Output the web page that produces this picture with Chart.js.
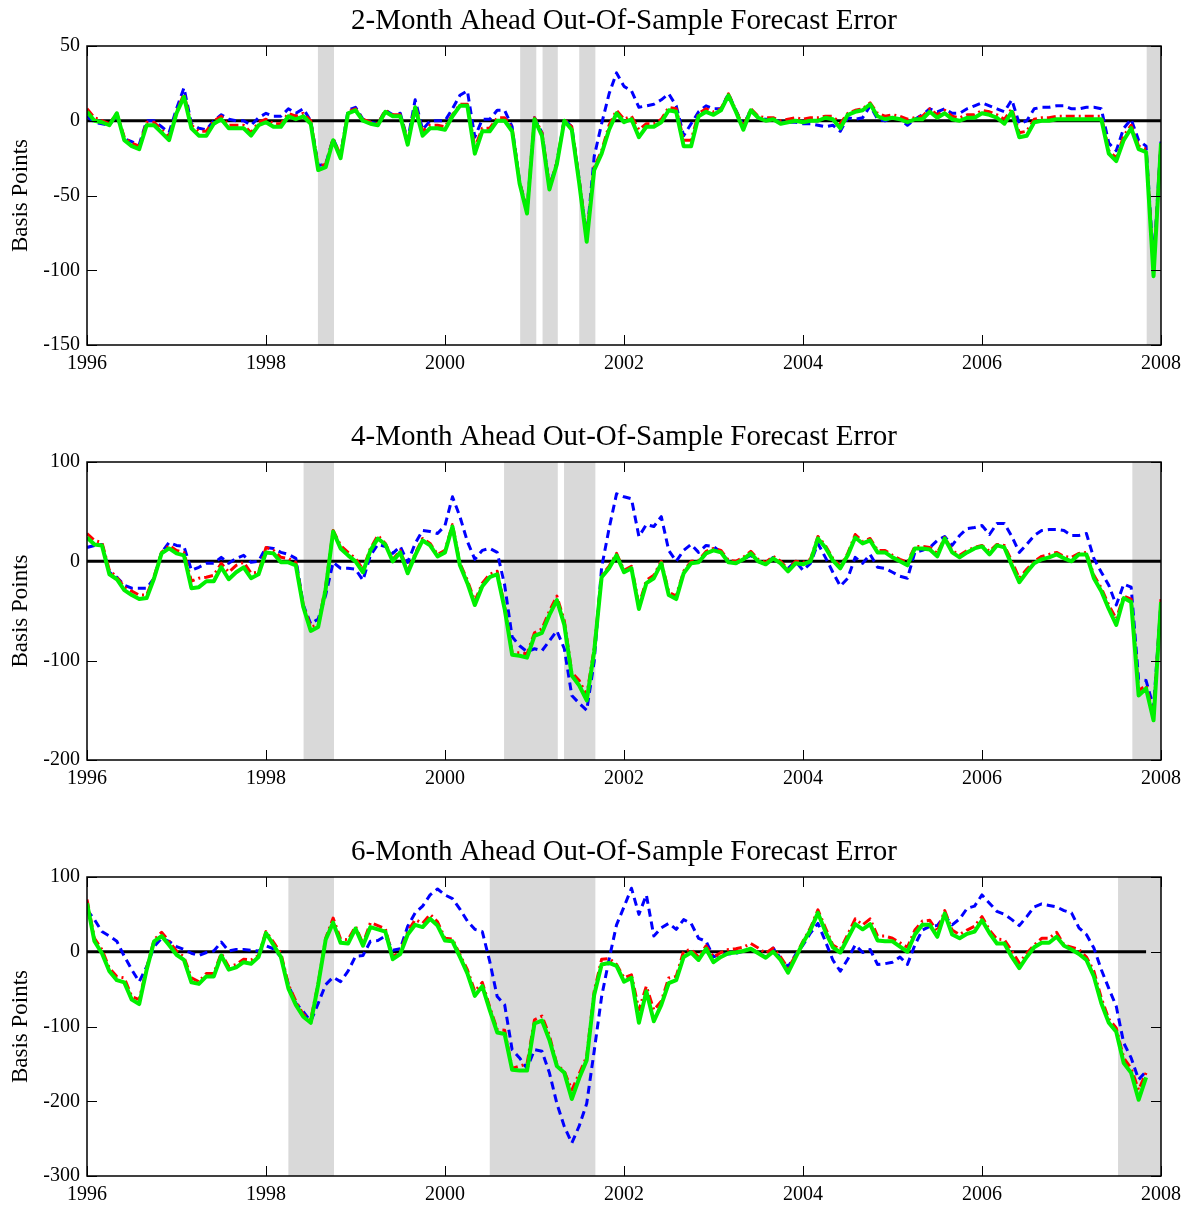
<!DOCTYPE html>
<html>
<head>
<meta charset="utf-8">
<title>Out-Of-Sample Forecast Error</title>
<script src="https://cdn.jsdelivr.net/npm/chart.js@4.4.1/dist/chart.umd.min.js"></script>
<style>
  body { margin: 0; background: #fff; }
  canvas.panel { position: absolute; left: 0; }
</style>
</head>
<body>
<canvas id="chart2m" class="panel" width="1193" height="416" style="top:0px"></canvas>
<canvas id="chart4m" class="panel" width="1193" height="415" style="top:416px"></canvas>
<canvas id="chart6m" class="panel" width="1193" height="376" style="top:831px"></canvas>
<script>
// Monthly forecast errors (basis points), first value = Jan 1996
const startYear = 1996;
const xTickYears = [1996, 1998, 2000, 2002, 2004, 2006, 2008];

// 2-month ahead
const blue2m = [3, -1, -2, -3, 4, -12, -14, -16, 0, 0,
  -4, -8, 8, 22, -2, -5, -6, 0, 4, 1,
  0, 0, -3, 2, 5, 3, 3, 8, 5, 8,
  0, -30, -29, -12, -23, 7, 9, 1, -1, -2,
  7, 4, 5, -13, 14, -6, 0, 0, 0, 8,
  17, 20, -11, 1, 1, 7, 7, -4, -41, -60,
  2, -8, -44, -28, 1, -4, -40, -78, -24, -2,
  18, 32, 23, 20, 9, 10, 11, 14, 18, 10,
  -10, -2, 6, 10, 8, 8, 18, 7, -3, 7,
  2, 1, 1, -1, -1, -1, -2, -2, -3, -4,
  -3, -7, 2, 1, 2, 10, 1, 0, 2, 1,
  -3, 1, 4, 8, 6, 8, 5, 5, 8, 10,
  12, 10, 8, 6, 14, -2, 0, 8, 9, 9,
  10, 10, 8, 8, 9, 9, 8, -15, -20, -5,
  1, -13, -17, -95, -13];
const red2m = [8, 2, 0, -2, 5, -11, -15, -17, -1, -1,
  -6, -11, 6, 18, -3, -7, -7, 0, 3, -3,
  -3, -3, -8, -1, 1, -2, -2, 5, 3, 5,
  0, -31, -29, -12, -23, 6, 8, 1, -1, -2,
  7, 4, 4, -14, 10, -7, -3, -3, -4, 4,
  11, 11, -18, -5, -5, 2, 2, -5, -41, -60,
  2, -8, -44, -28, 1, -4, -40, -78, -31, -20,
  -3, 7, 1, 3, -6, -2, -2, 1, 9, 8,
  -13, -13, 5, 8, 6, 8, 18, 7, -4, 8,
  3, 2, 2, 0, 1, 2, 1, 2, 2, 3,
  3, -2, 5, 7, 8, 12, 5, 3, 4, 3,
  1, 2, 3, 8, 4, 7, 3, 2, 4, 4,
  7, 6, 4, 1, 8, -8, -7, 1, 2, 2,
  3, 3, 3, 3, 3, 3, 3, -20, -25, -10,
  -3, -17, -19, -100, -14];
const green2m = [6, 0, -1, -3, 5, -13, -17, -19, -3, -3,
  -8, -13, 5, 16, -5, -10, -10, -2, 1, -5,
  -5, -5, -10, -3, -1, -4, -4, 3, 1, 3,
  -2, -33, -31, -13, -25, 5, 7, 0, -2, -3,
  6, 3, 3, -16, 9, -10, -5, -5, -6, 3,
  10, 10, -22, -7, -7, 0, 0, -7, -42, -62,
  1, -10, -46, -29, 0, -6, -42, -81, -33, -22,
  -6, 5, -1, 1, -11, -4, -4, -1, 7, 6,
  -17, -17, 3, 6, 4, 7, 17, 6, -6, 7,
  2, 0, 1, -2, -1, 0, -1, 0, 0, 2,
  1, -5, 4, 6, 7, 11, 3, 1, 2, 1,
  -1, 1, 1, 6, 2, 5, 1, 0, 2, 2,
  5, 4, 2, -2, 6, -11, -10, -1, 0, 0,
  1, 1, 1, 1, 1, 1, 1, -22, -27, -13,
  -5, -19, -21, -104, -15];
const yTicks2m = [-150, -100, -50, 0, 50];
const bands2m = [[1998.58, 1998.76], [2000.84, 2001.02], [2001.09, 2001.26], [2001.50, 2001.68], [2007.84, 2008.0]];

// 4-month ahead
const blue4m = [14, 16, 17, -11, -16, -24, -27, -27, -27, -17,
  9, 19, 16, 15, -9, -6, -2, -2, 4, -2,
  3, 6, -1, 0, 14, 13, 9, 7, 3, -44,
  -63, -58, -34, -1, -7, -7, -8, -19, 6, 17,
  15, 8, 15, -1, 18, 31, 30, 28, 36, 65,
  45, 20, 2, 11, 13, 9, -24, -76, -85, -91,
  -88, -90, -80, -70, -88, -135, -143, -150, -101, -6,
  33, 68, 65, 63, 25, 37, 35, 45, 11, 0,
  11, 17, 9, 16, 15, 9, 0, -2, 2, 6,
  0, -3, 4, -2, -7, 0, -9, -2, 18, 4,
  -11, -25, -17, 4, -2, 7, -6, -7, -11, -15,
  -17, 9, 11, 14, 21, 25, 16, 26, 33, 34,
  36, 27, 38, 38, 25, 9, 17, 26, 31, 32,
  32, 31, 26, 26, 28, 3, -11, -24, -44, -23,
  -26, -119, -120, -147, -41];
const red4m = [28, 21, 19, -9, -16, -26, -30, -34, -34, -15,
  9, 16, 11, 9, -20, -17, -16, -14, -2, -11,
  -4, -1, -12, -11, 14, 11, 4, 3, -1, -44,
  -66, -64, -25, 31, 16, 9, 3, -8, 13, 26,
  18, 2, 11, -10, 8, 23, 18, 7, 11, 37,
  -2, -19, -40, -22, -13, -10, -45, -92, -92, -93,
  -72, -68, -50, -35, -60, -112, -120, -135, -88, -14,
  -5, 8, -9, -5, -44, -19, -14, 0, -31, -35,
  -10, 0, 1, 10, 13, 11, 1, 0, 4, 10,
  2, -1, 5, 0, -8, 0, -1, 2, 25, 16,
  3, -5, 8, 27, 20, 23, 11, 11, 6, 2,
  -1, 15, 15, 14, 8, 24, 11, 6, 11, 14,
  16, 10, 17, 16, 0, -17, -8, 0, 5, 7,
  9, 5, 4, 8, 9, -14, -27, -44, -58, -35,
  -38, -130, -125, -155, -38];
const green4m = [24, 17, 16, -13, -18, -29, -34, -38, -37, -17,
  8, 13, 8, 6, -27, -26, -20, -20, -6, -18,
  -11, -6, -17, -13, 9, 8, -1, -1, -4, -46,
  -70, -66, -28, 30, 13, 6, 0, -11, 11, 23,
  17, 0, 9, -12, 6, 21, 16, 5, 9, 35,
  -4, -22, -44, -25, -16, -13, -48, -94, -95, -97,
  -75, -72, -54, -39, -64, -115, -125, -140, -91, -16,
  -7, 6, -11, -7, -48, -22, -17, -2, -34, -38,
  -12, -2, -1, 8, 11, 9, -1, -2, 2, 8,
  0, -3, 3, -2, -10, -2, -3, 0, 23, 14,
  1, -7, 6, 24, 18, 21, 9, 9, 4, 0,
  -4, 13, 13, 12, 5, 23, 9, 4, 9, 13,
  15, 7, 16, 14, -4, -21, -11, -2, 2, 4,
  7, 3, 0, 7, 7, -17, -30, -48, -64, -37,
  -41, -135, -128, -160, -41];
const yTicks4m = [-200, -100, 0, 100];
const bands4m = [[1998.42, 1998.76], [2000.66, 2001.26], [2001.33, 2001.68], [2007.68, 2008.0]];

// 6-month ahead
const blue6m = [56, 43, 27, 21, 14, -6, -24, -40, -20, 7,
  18, 14, 7, 3, -2, -5, -1, 1, 13, 1,
  3, 3, 2, 1, 8, 4, -7, -44, -69, -80,
  -93, -69, -44, -34, -40, -26, -6, -5, 14, 15,
  21, 2, 4, 34, 52, 61, 76, 84, 76, 71,
  57, 41, 30, 27, -13, -60, -71, -131, -142, -156,
  -131, -133, -162, -203, -234, -256, -233, -203, -133, -60,
  -10, 36, 60, 85, 50, 76, 21, 32, 38, 30,
  43, 38, 18, 14, -7, -3, -3, -2, 1, 4,
  -2, -7, 5, -9, -20, -4, 9, 25, 38, 14,
  -11, -26, -10, 9, -1, 3, -17, -16, -14, -7,
  -17, 9, 29, 34, 35, 48, 36, 44, 58, 61,
  76, 65, 54, 50, 43, 35, 47, 60, 64, 62,
  60, 55, 52, 32, 23, 5, -24, -49, -73, -122,
  -142, -171, -160];
const red6m = [70, 18, 3, -22, -33, -35, -60, -64, -22, 16,
  26, 14, 1, -7, -35, -40, -29, -29, -2, -20,
  -17, -10, -11, -5, 27, 13, -2, -44, -66, -84,
  -91, -42, 18, 45, 17, 16, 34, 11, 39, 35,
  31, -7, 0, 27, 43, 38, 50, 40, 18, 17,
  -4, -24, -53, -41, -74, -104, -105, -156, -153, -150,
  -91, -86, -112, -151, -160, -185, -163, -140, -53, -10,
  -9, -17, -35, -31, -78, -46, -78, -66, -35, -33,
  1, 3, -7, 8, -7, -1, 3, 4, 6, 11,
  5, -2, 5, -7, -22, -5, 14, 32, 56, 32,
  9, 3, 23, 44, 36, 44, 21, 21, 18, 12,
  6, 29, 41, 42, 27, 55, 29, 23, 29, 34,
  47, 29, 17, 16, 1, -15, -2, 9, 18, 18,
  26, 9, 6, 3, -7, -26, -62, -90, -102, -142,
  -156, -185, -162];
const green6m = [65, 14, -2, -26, -38, -41, -64, -70, -24, 14,
  21, 9, -4, -11, -41, -43, -33, -33, -5, -24,
  -21, -14, -16, -7, 25, 9, -7, -49, -71, -87,
  -95, -44, 16, 39, 12, 11, 31, 8, 33, 30,
  27, -10, -3, 23, 36, 33, 44, 35, 15, 14,
  -7, -29, -59, -46, -78, -108, -110, -158, -159, -159,
  -96, -92, -118, -153, -162, -197, -169, -145, -58, -17,
  -15, -19, -40, -35, -95, -53, -93, -71, -42, -38,
  -7, -1, -11, 4, -14, -7, -2, -1, 1, 4,
  -2, -8, 0, -11, -28, -8, 12, 29, 52, 27,
  6, -1, 18, 37, 30, 37, 15, 14, 14, 7,
  0, 23, 36, 36, 20, 51, 23, 18, 24, 27,
  42, 25, 11, 11, -7, -22, -7, 6, 12, 12,
  20, 8, 3, -3, -11, -33, -69, -95, -107, -149,
  -162, -198, -168];
const yTicks6m = [-300, -200, -100, 0, 100];
const bands6m = [[1998.25, 1998.76], [2000.50, 2001.68], [2007.52, 2008.0]];

Chart.defaults.font.family = "'Liberation Serif', 'Times New Roman', serif";
Chart.defaults.color = '#000';

function toPoints(values) {
    return values.map((v, i) => ({ x: startYear + i / 12, y: v }));
}

// title over the plot box, shaded periods, zero line, box frame and inward ticks
const panelDecor = {
    id: 'panelDecor',
    beforeDatasetsDraw(chart, args, opts) {
        const { ctx, chartArea: a, scales: { x, y } } = chart;
        ctx.save();
        ctx.fillStyle = '#d9d9d9';
        opts.bands.forEach(([s, e]) => {
            const x0 = x.getPixelForValue(s);
            const x1 = x.getPixelForValue(e);
            ctx.fillRect(x0, a.top, x1 - x0, a.bottom - a.top);
        });
        const y0 = y.getPixelForValue(0);
        ctx.strokeStyle = '#000';
        ctx.lineWidth = 3;
        ctx.beginPath();
        ctx.moveTo(x.getPixelForValue(startYear), y0);
        ctx.lineTo(x.getPixelForValue(startYear + (opts.count - 1) / 12), y0);
        ctx.stroke();
        ctx.restore();
    },
    afterDraw(chart, args, opts) {
        const { ctx, chartArea: a, scales: { x, y } } = chart;
        const len = 10;
        ctx.save();
        ctx.strokeStyle = '#000';
        ctx.lineWidth = 1;
        ctx.beginPath();
        y.ticks.forEach(t => {
            const py = Math.round(y.getPixelForValue(t.value)) + 0.5;
            ctx.moveTo(a.left, py); ctx.lineTo(a.left + len, py);
            ctx.moveTo(a.right, py); ctx.lineTo(a.right - len, py);
        });
        x.ticks.forEach(t => {
            const px = Math.round(x.getPixelForValue(t.value)) + 0.5;
            ctx.moveTo(px, a.bottom); ctx.lineTo(px, a.bottom - len);
            ctx.moveTo(px, a.top); ctx.lineTo(px, a.top + len);
        });
        ctx.stroke();
        ctx.lineWidth = 1.5;
        ctx.strokeRect(a.left, a.top, a.right - a.left, a.bottom - a.top);

        ctx.fillStyle = '#000';
        ctx.font = "29px 'Liberation Serif', 'Times New Roman', serif";
        ctx.textAlign = 'center';
        ctx.textBaseline = 'middle';
        ctx.fillText(opts.title, (a.left + a.right) / 2, a.top - 25);
        ctx.restore();
    }
};

function drawPanel(canvasId, title, blue, red, green, yTicks, bands, plotHeight) {
    const canvas = document.getElementById(canvasId);
    const titleBlock = 46;
    const xAxisHeight = canvas.height - titleBlock - plotHeight;

    return new Chart(canvas.getContext('2d'), {
        type: 'line',
        data: {
            datasets: [
                {
                    data: toPoints(green),
                    borderColor: '#00f000',
                    borderWidth: 4,
                    order: 1
                },
                {
                    data: toPoints(red),
                    borderColor: '#ff0000',
                    borderWidth: 3,
                    borderDash: [9, 4, 2, 4],
                    order: 2
                },
                {
                    data: toPoints(blue),
                    borderColor: '#0000ff',
                    borderWidth: 3,
                    borderDash: [8, 5],
                    order: 3
                }
            ]
        },
        options: {
            responsive: false,
            animation: false,
            devicePixelRatio: 1,
            elements: { point: { radius: 0 }, line: { tension: 0, borderJoinStyle: 'round' } },
            layout: { padding: { top: titleBlock, left: 0, right: 32, bottom: 0 } },
            scales: {
                x: {
                    type: 'linear',
                    min: xTickYears[0],
                    max: xTickYears[xTickYears.length - 1],
                    afterBuildTicks: s => { s.ticks = xTickYears.map(v => ({ value: v })); },
                    afterFit: s => { s.height = xAxisHeight; },
                    grid: { display: false, drawTicks: false },
                    border: { display: false },
                    ticks: {
                        padding: 7,
                        maxRotation: 0,
                        font: { size: 20 },
                        callback: v => String(v)
                    }
                },
                y: {
                    min: yTicks[0],
                    max: yTicks[yTicks.length - 1],
                    afterBuildTicks: s => { s.ticks = yTicks.map(v => ({ value: v })); },
                    afterFit: s => { s.width = 87; },
                    grid: { display: false, drawTicks: false },
                    border: { display: false },
                    ticks: { padding: 7, font: { size: 20 } },
                    title: {
                        display: true,
                        text: 'Basis Points',
                        font: { size: 23 },
                        padding: { top: 7, bottom: 0 }
                    }
                }
            },
            plugins: {
                legend: { display: false },
                tooltip: { enabled: false },
                title: { display: false },
                panelDecor: { bands: bands, count: green.length, title: title }
            }
        },
        plugins: [panelDecor]
    });
}

drawPanel('chart2m', '2-Month Ahead Out-Of-Sample Forecast Error', blue2m, red2m, green2m, yTicks2m, bands2m, 299);
drawPanel('chart4m', '4-Month Ahead Out-Of-Sample Forecast Error', blue4m, red4m, green4m, yTicks4m, bands4m, 298);
drawPanel('chart6m', '6-Month Ahead Out-Of-Sample Forecast Error', blue6m, red6m, green6m, yTicks6m, bands6m, 299);
</script>
</body>
</html>
